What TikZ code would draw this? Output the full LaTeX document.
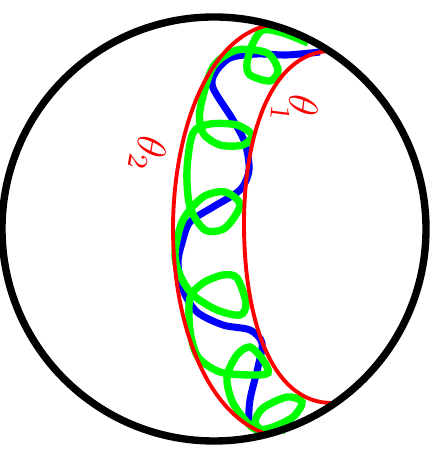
\documentclass[tikz,border=0pt]{standalone}
\usepackage{amsmath,amssymb}
\usetikzlibrary{calc}

\begin{document}
\begin{tikzpicture}
  \useasboundingbox (-2.14,-2.25) rectangle (2.25,2.29);
  % 蓝色曲线
  \def\bluecurve{(1.06,1.77) (0.73,1.74) (0.43,1.75) (0.16,1.71) (0.01,1.56)
              (-0.01,1.41) (0.19,1.09) (0.31,0.86) (0.35,0.59) (0.26,0.39)
              (-0.01,0.22) (-0.24,0.07) (-0.32,-0.14) (-0.36,-0.34) (-0.31,-0.61)
              (-0.17,-0.83) (0.09,-0.96) (0.36,-1.01) (0.48,-1.14) (0.44,-1.38)
              (0.36,-1.71) (0.36,-1.94) (0.5,-2.03) (0.79,-1.92)}
  \draw[blue, line width=2pt] plot[smooth] coordinates {\bluecurve};
  % 绿色曲线（带小圈）
  \def\greencurve{(0.94,1.86) (0.69,1.96) (0.49,1.99) (0.39,1.86) (0.33,1.66)
              (0.36,1.54) (0.56,1.48) (0.64,1.59) (0.53,1.76) (0.23,1.79)
              (-0.01,1.62) (-0.14,1.19) (-0.11,0.96) (0.06,0.84) (0.29,0.84)
              (0.38,0.94) (0.23,1.04) (-0.04,1.05) (-0.21,0.96) (-0.27,0.59)
              (-0.24,0.22) (-0.09,-0.01) (0.11,0.01) (0.26,0.24) (0.11,0.37)
              (-0.11,0.32) (-0.31,0.09) (-0.39,-0.24) (-0.34,-0.46) (-0.21,-0.66)
              (0.03,-0.81) (0.26,-0.86) (0.32,-0.74) (0.23,-0.49) (0.09,-0.46)
              (-0.11,-0.54) (-0.24,-0.69) (-0.24,-1.01) (-0.16,-1.28) (0.06,-1.43)
              (0.36,-1.46) (0.54,-1.44) (0.49,-1.31) (0.36,-1.18) (0.23,-1.26)
              (0.13,-1.48) (0.19,-1.74) (0.39,-1.99) (0.56,-1.99) (0.79,-1.88)
              (0.88,-1.73) (0.73,-1.68) (0.49,-1.79) (0.41,-1.93) (0.49,-2.01) (0.71,-2.01)}
  \draw[green, line width=2.1pt] plot[smooth] coordinates {\greencurve};
  % 红色边界
  \draw[red, line width=1.1pt] (0.55,2.04) .. controls (-0.1,1.9) and (-0.41,0.9) .. (-0.41,0)
              .. controls (-0.41,-0.85) and (-0.12,-1.85) .. (0.55,-2.06);
  \draw[red, line width=1.1pt] (1.15,1.78) .. controls (0.55,1.75) and (0.30,0.9) .. (0.30,0.05)
              .. controls (0.30,-0.85) and (0.55,-1.75) .. (1.19,-1.74);
  % 外圆
  \draw[line width=2.1pt] (0,0) circle (2.12);
  % 标注
  \node[red, font=\large, rotate=-97] (theta1) at (0.81,1.205) {$\theta\kern-2pt\lower5pt\hbox{$\scriptstyle 1$}$};
  \node[red, font=\large, rotate=-100] (theta2) at (-0.66,0.75) {$\theta_2$};
\end{tikzpicture}
\end{document}
